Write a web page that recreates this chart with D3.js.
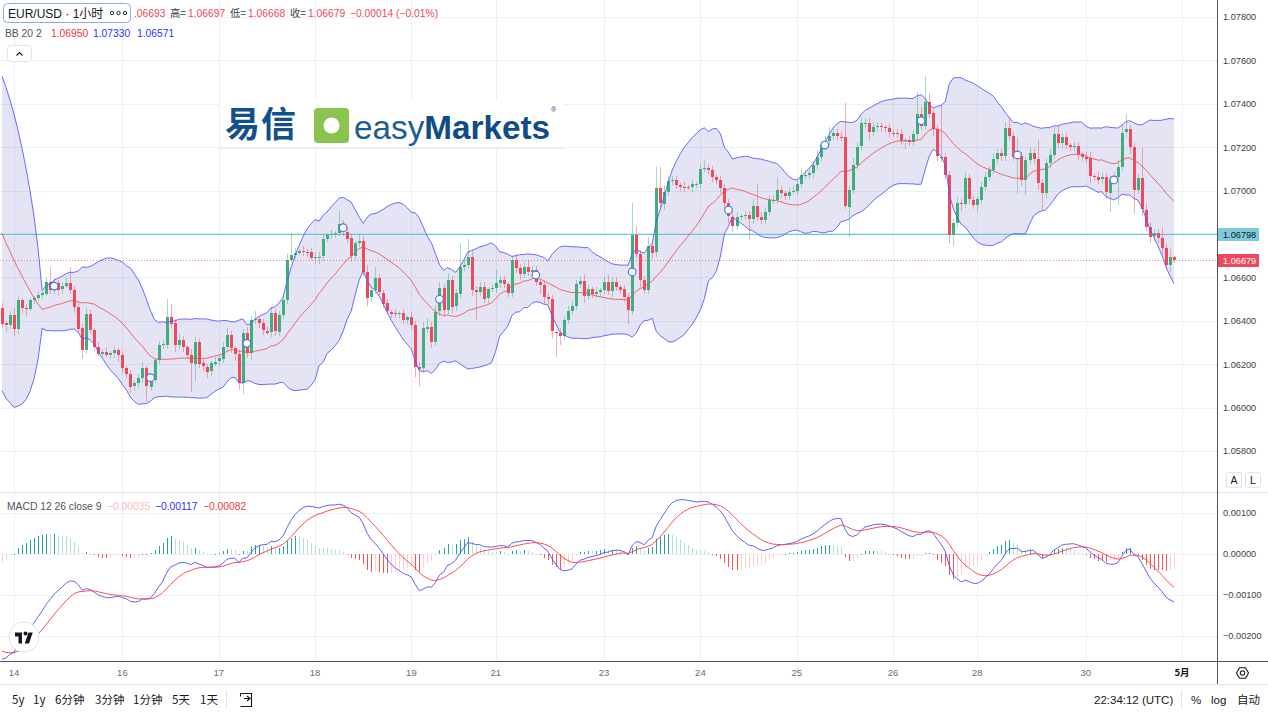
<!DOCTYPE html>
<html>
<head>
<meta charset="utf-8">
<script src="https://cdn.jsdelivr.net/npm/d3@7/dist/d3.min.js"></script>
<style>
  html, body { margin: 0; padding: 0; background: #fff; }
  svg { display: block; font-family: "Liberation Sans", Arial, sans-serif; }
</style>
</head>
<body>
<svg id="chart" width="1268" height="714"></svg>
<script>
// EUR/USD 1h candles with BB(20,2) and MACD(12,26,9), TradingView look.
// prices are kept in pips above 1.0600 to keep the arrays short
const BASE = 1.06;

// hours before the first visible bar (only feed the indicators)
const preCloses = [175, 174, 171, 170, 169, 166, 165, 164, 161, 160, 158, 158, 155, 152, 152,
  150, 149, 146, 145, 143, 141, 141, 138, 136, 135, 134, 131, 130, 128, 126,
  124, 123, 121, 120, 118, 117, 115, 113, 110, 100,
  48, 44, 42, 45, 47, 44, 43, 46, 46];

const closes = [
  38.8, 38.0, 42.7, 36.1, 49.6, 45.7, 45.3, 49.6, 50.3, 51.9,
  52.6, 58.0, 54.2, 57.6, 54.5, 56.0, 57.6, 54.2, 46.5, 36.5,
  26.5, 43.1, 35.8, 28.1, 25.0, 25.8, 24.2, 25.0, 26.5, 24.2,
  18.1, 15.5, 9.6, 11.2, 13.5, 18.1, 9.6, 12.7, 21.9, 28.8,
  29.2, 41.9, 38.8, 28.8, 31.2, 27.8, 24.2, 20.4, 30.4, 20.4,
  18.9, 16.6, 20.4, 21.2, 22.7, 28.1, 33.5, 27.3, 24.7, 11.2,
  34.2, 25.0, 40.4, 40.7, 38.8, 35.4, 34.5, 43.4, 35.0, 42.7,
  49.6, 68.0, 70.3, 71.4, 72.3, 71.9, 71.5, 68.8, 69.2, 69.6,
  77.5, 79.5, 80.0, 80.3, 84.6, 81.1, 78.0, 69.9, 76.0, 76.9,
  62.6, 50.8, 54.2, 59.6, 53.0, 48.0, 44.2, 43.4, 43.1, 43.4,
  40.4, 41.9, 38.1, 18.9, 18.1, 36.5, 37.3, 30.4, 44.2, 55.0,
  45.0, 58.8, 46.5, 52.6, 64.9, 65.7, 69.6, 54.2, 53.4, 55.7,
  50.3, 54.5, 55.0, 57.3, 58.8, 57.0, 53.0, 68.0, 64.2, 61.6,
  64.9, 62.6, 63.4, 58.0, 56.5, 50.8, 49.9, 35.0, 34.5, 33.0,
  40.4, 44.7, 46.8, 57.0, 58.5, 51.4, 54.5, 52.3, 53.4, 54.2,
  58.0, 53.9, 58.0, 55.7, 54.5, 50.8, 44.7, 79.5, 70.8, 58.8,
  54.2, 74.5, 71.4, 101.0, 94.1, 99.5, 104.6, 104.9, 102.6, 101.8,
  101.5, 101.4, 103.0, 103.1, 109.8, 110.3, 109.5, 106.1, 104.9, 101.0,
  94.1, 88.0, 83.7, 88.0, 88.3, 88.8, 86.8, 92.9, 88.0, 86.4,
  90.3, 95.7, 95.8, 100.3, 98.7, 97.5, 99.5, 100.0, 103.0, 107.2,
  107.3, 108.0, 111.8, 115.6, 121.0, 123.0, 125.2, 126.4, 124.9, 124.5,
  92.6, 100.3, 111.8, 120.2, 131.0, 131.3, 127.2, 129.5, 129.8, 129.2,
  128.7, 126.7, 126.6, 126.3, 123.0, 123.3, 122.5, 126.1, 135.3, 129.8,
  141.0, 135.6, 128.2, 115.6, 115.3, 107.2, 79.5, 84.9, 94.1, 93.8,
  105.6, 95.7, 93.4, 96.0, 101.8, 106.4, 109.5, 114.4, 117.2, 115.6,
  128.7, 125.2, 115.6, 115.9, 104.9, 114.1, 117.2, 114.4, 103.3, 98.7,
  112.6, 116.4, 126.1, 121.8, 124.5, 121.0, 120.2, 120.5, 116.9, 115.6,
  114.9, 106.7, 106.4, 105.2, 106.1, 99.0, 104.9, 106.4, 111.0, 126.7,
  128.2, 119.9, 100.3, 105.6, 91.1, 83.4, 78.8, 80.3, 78.0, 73.4,
  65.7, 69.3, 67.9
];

// wick length above / below the body, pips
const hiWick = [
  2, 1, 2, 3, 2, 1, 2, 1, 1, 2,   1, 2, 7, 2, 1, 2, 2, 7, 2, 2,
  2, 3, 2, 1, 2, 1, 2, 1, 2, 1,   2, 1, 2, 1, 2, 3, 1, 2, 1, 2,
  2, 8, 6, 2, 3, 2, 1, 3, 2, 1,   2, 1, 1, 2, 1, 2, 3, 2, 1, 2,
  2, 3, 2, 4, 1, 2, 2, 3, 2, 2,   2, 3, 10, 2, 1, 2, 1, 2, 2, 2,
  2, 1, 2, 1, 6, 2, 2, 2, 1, 3,   2, 3, 2, 5, 2, 1, 2, 1, 2, 1,
  2, 1, 2, 2, 2, 3, 4, 2, 3, 3,   2, 3, 2, 2, 11, 3, 8, 3, 2, 2,
  2, 1, 2, 6, 2, 2, 1, 2, 3, 2,   2, 3, 2, 2, 1, 2, 2, 2, 1, 2,
  2, 2, 3, 2, 2, 3, 2, 1, 2, 1,   2, 3, 2, 2, 1, 2, 2, 15, 4, 2,
  2, 4, 2, 10, 10, 3, 2, 2, 2, 1, 2, 1, 2, 1, 2, 4, 2, 2, 1, 2,
  2, 2, 2, 2, 1, 2, 2, 3, 10, 2,  2, 2, 2, 6, 2, 1, 2, 2, 2, 3,
  2, 2, 2, 3, 2, 2, 4, 2, 2, 2,   16, 2, 3, 2, 3, 2, 2, 2, 2, 2,
  1, 2, 1, 2, 2, 1, 2, 2, 10, 3,  12, 4, 2, 2, 24, 2, 2, 2, 3, 2,
  3, 2, 2, 1, 2, 2, 2, 3, 2, 2,   3, 5, 2, 9, 2, 2, 3, 2, 9, 2,
  2, 3, 3, 4, 2, 2, 1, 2, 2, 1,   2, 3, 1, 2, 2, 2, 2, 2, 3, 4,
  7, 2, 2, 2, 14, 3, 2, 2, 2, 5,  2, 4, 0.4
];
const loWick = [
  2, 3, 2, 3, 2, 2, 3, 1, 2, 1,   2, 1, 2, 2, 3, 2, 1, 2, 3, 2,
  4, 2, 2, 2, 1, 2, 1, 2, 2, 3,   2, 2, 3, 2, 2, 2, 7, 2, 1, 2,
  2, 2, 2, 3, 2, 2, 2, 13, 8, 2,  2, 3, 2, 1, 2, 2, 2, 2, 3, 3,
  5, 2, 3, 2, 2, 2, 1, 2, 2, 2,   2, 2, 1, 2, 1, 2, 2, 1, 2, 3,
  2, 1, 2, 2, 1, 2, 2, 3, 2, 2,   2, 4, 2, 2, 2, 2, 1, 2, 2, 2,
  2, 2, 2, 5, 8, 2, 2, 3, 2, 2,   3, 2, 3, 2, 2, 2, 2, 3, 13, 2,
  2, 2, 1, 2, 2, 2, 2, 2, 2, 3,   2, 2, 2, 2, 4, 3, 2, 3, 11, 4,
  2, 2, 2, 2, 2, 3, 2, 2, 2, 2,   2, 2, 3, 2, 2, 2, 6, 2, 2, 3,
  2, 2, 3, 2, 2, 3, 2, 2, 2, 2,   2, 1, 2, 2, 2, 1, 2, 2, 2, 2,
  2, 3, 3, 2, 2, 2, 9, 2, 2, 2,   2, 2, 2, 2, 2, 2, 2, 1, 2, 2,
  2, 2, 2, 2, 2, 1, 2, 2, 2, 2,   1, 14, 2, 2, 2, 2, 4, 2, 2, 2,
  2, 2, 2, 2, 2, 4, 2, 2, 3, 2,   2, 2, 3, 2, 2, 2, 4, 5, 2, 3,
  2, 2, 2, 3, 2, 2, 2, 2, 2, 2,   2, 2, 2, 17, 3, 7, 2, 2, 3, 8,
  2, 2, 2, 2, 2, 2, 2, 2, 3, 2,   2, 3, 2, 2, 2, 3, 9, 2, 13, 2,
  2, 3, 11, 2, 3, 2, 3, 2, 2, 3,  2, 3, 1.1
];

// daily circle markers (bar index, price in pips)
const markIdx = [13, 37, 61, 85, 109, 133, 157, 181, 205, 229, 253, 277];
const markPips = [56.0, 13.8, 29.6, 82.9, 49.9, 61.1, 62.5, 91.1, 121.0, 132.2, 116.4, 104.9];

// time axis
const dayLabels = ['14', '16', '17', '18', '19', '21', '23', '24', '25', '26', '28', '30', '5月'];
const dayIdx = [3, 30, 54, 78, 102, 123, 150, 174, 198, 222, 243, 270, 294];

const priceTicks = [1.078, 1.076, 1.074, 1.072, 1.070, 1.068, 1.066, 1.064, 1.062, 1.060, 1.058];
const macdTicks = [0.001, 0, -0.001, -0.002];
const hLinePrice = 1.06798;
const lastPrice = 1.06679;

const toolbarLeft = ['5y', '1y', '6分钟', '3分钟', '1分钟', '5天', '1天'];
const toolbarLeftX = [12, 33, 55, 95, 133, 172, 200];

// ---------------------------------------------------------------------------
const W = 1268, H = 714;
const AXIS_X = 1217, MAIN_B = 492, MACD_T = 493, MACD_B = 661, TB_Y = 684;
const UP = '#3fae7c', DOWN = '#ef4a5a', GRID = '#edf0f5', TXT = '#3d4049';
const CJK = '"Noto Sans CJK SC", "Liberation Sans", sans-serif';
const LAT = '"Liberation Sans", "Noto Sans CJK SC", sans-serif';

const svg = d3.select('#chart');
svg.append('rect').attr('width', W).attr('height', H).attr('fill', '#fff');

const nPre = preCloses.length;
const allCloses = preCloses.concat(closes).map(p => BASE + p / 10000);

const bars = closes.map((_, i) => {
  const open = allCloses[nPre + i - 1], close = allCloses[nPre + i];
  return {
    i, open, close,
    hi: Math.max(open, close) + hiWick[i] / 10000,
    lo: Math.min(open, close) - loWick[i] / 10000
  };
});

// bollinger 20, 2
const bb = closes.map((_, i) => {
  const k = nPre + i;
  const win = allCloses.slice(k - 19, k + 1);
  const m = d3.mean(win);
  const sd = Math.sqrt(d3.mean(win, v => (v - m) ** 2));
  return { i, mid: m, up: m + 2 * sd, lo: m - 2 * sd };
});

// macd 12 26 9
function ema(arr, n) {
  const a = 2 / (n + 1);
  let e = arr[0];
  return arr.map(v => (e = a * v + (1 - a) * e));
}
const e12 = ema(allCloses, 12), e26 = ema(allCloses, 26);
const macdAll = e12.map((v, k) => v - e26[k]);
const sigAll = ema(macdAll, 9);
const macd = closes.map((_, i) => {
  const k = nPre + i;
  const h = macdAll[k] - sigAll[k], hp = macdAll[k - 1] - sigAll[k - 1];
  return { i, m: macdAll[k], s: sigAll[k], h, hp };
});

const x = d3.scaleLinear().domain([0, 292]).range([2, 1174]);
const y = d3.scaleLinear().domain([1.058, 1.078]).range([451, 17]);
const yM = d3.scaleLinear().domain([-0.002, 0.001]).range([636, 513]);

const defs = svg.append('defs');
defs.append('clipPath').attr('id', 'clipMain')
  .append('rect').attr('x', 0).attr('y', 0).attr('width', AXIS_X).attr('height', MAIN_B);
defs.append('clipPath').attr('id', 'clipMacd')
  .append('rect').attr('x', 0).attr('y', MACD_T).attr('width', AXIS_X).attr('height', MACD_B - MACD_T);

// ---- grid
const grid = svg.append('g').attr('stroke', GRID).attr('shape-rendering', 'crispEdges');
grid.selectAll('line.v').data(dayIdx).join('line').attr('class', 'v')
  .attr('x1', d => Math.round(x(d)) + 0.5).attr('x2', d => Math.round(x(d)) + 0.5)
  .attr('y1', 0).attr('y2', MACD_B);
grid.selectAll('line.h').data(priceTicks).join('line').attr('class', 'h')
  .attr('x1', 0).attr('x2', AXIS_X)
  .attr('y1', d => Math.round(y(d)) + 0.5).attr('y2', d => Math.round(y(d)) + 0.5);
grid.selectAll('line.m').data(macdTicks).join('line').attr('class', 'm')
  .attr('x1', 0).attr('x2', AXIS_X)
  .attr('y1', d => Math.round(yM(d)) + 0.5).attr('y2', d => Math.round(yM(d)) + 0.5);

// ---- logo overlay
const logo = svg.append('g');
logo.append('rect').attr('x', 220).attr('y', 101).attr('width', 344).attr('height', 47).attr('fill', '#fff');
logo.append('rect').attr('x', 220).attr('y', 147).attr('width', 344).attr('height', 2).attr('fill', '#ededed');
logo.append('text').attr('x', 225).attr('y', 137).attr('font-family', CJK)
  .attr('font-size', 35).attr('font-weight', 700).attr('fill', '#12508a')
  .attr('textLength', 71).text('易信');
logo.append('rect').attr('x', 314).attr('y', 108).attr('width', 35).attr('height', 35)
  .attr('rx', 4).attr('fill', '#8bc34f');
logo.append('circle').attr('cx', 331.5).attr('cy', 125.5).attr('r', 8).attr('fill', '#fff');
const brand = logo.append('text').attr('x', 354).attr('y', 139).attr('font-size', 33)
  .attr('textLength', 196).attr('lengthAdjust', 'spacingAndGlyphs');
brand.append('tspan').attr('fill', '#1c5c97').text('easy');
brand.append('tspan').attr('fill', '#0f4c86').attr('font-weight', 700).text('Markets');
logo.append('text').attr('x', 551).attr('y', 112).attr('font-size', 7).attr('fill', '#0f4c86').text('®');

// ---- main pane
const main = svg.append('g').attr('clip-path', 'url(#clipMain)');

main.append('path').datum(bb)
  .attr('d', d3.area().x(d => x(d.i)).y0(d => y(d.lo)).y1(d => y(d.up)))
  .attr('fill', 'rgba(120,120,200,0.2)');

main.append('line')
  .attr('x1', 0).attr('x2', AXIS_X)
  .attr('y1', y(hLinePrice)).attr('y2', y(hLinePrice))
  .attr('stroke', '#6cc4da').attr('stroke-width', 1.3);

const candle = main.append('g').selectAll('g').data(bars).join('g');
candle.append('line')
  .attr('x1', d => Math.round(x(d.i)) + 0.5).attr('x2', d => Math.round(x(d.i)) + 0.5)
  .attr('y1', d => y(d.hi)).attr('y2', d => y(d.lo))
  .attr('stroke', d => d.close >= d.open ? UP : DOWN)
  .attr('stroke-opacity', 0.45).attr('shape-rendering', 'crispEdges');
candle.append('rect')
  .attr('x', d => Math.round(x(d.i)) - 1)
  .attr('width', 3)
  .attr('y', d => Math.round(y(Math.max(d.open, d.close))))
  .attr('height', d => Math.max(1, Math.round(Math.abs(y(d.open) - y(d.close)))))
  .attr('fill', d => d.close >= d.open ? UP : DOWN)
  .attr('shape-rendering', 'crispEdges');

main.append('path').datum(bb)
  .attr('d', d3.line().x(d => x(d.i)).y(d => y(d.up)))
  .attr('fill', 'none').attr('stroke', '#5252ff').attr('stroke-width', 1).attr('stroke-opacity', 0.85);
main.append('path').datum(bb)
  .attr('d', d3.line().x(d => x(d.i)).y(d => y(d.lo)))
  .attr('fill', 'none').attr('stroke', '#5252ff').attr('stroke-width', 1).attr('stroke-opacity', 0.85);
main.append('path').datum(bb)
  .attr('d', d3.line().x(d => x(d.i)).y(d => y(d.mid)))
  .attr('fill', 'none').attr('stroke', '#f04848').attr('stroke-width', 1).attr('stroke-opacity', 0.8);

main.selectAll('circle.mk').data(markIdx).join('circle').attr('class', 'mk')
  .attr('cx', d => x(d)).attr('cy', (d, k) => y(BASE + markPips[k] / 10000))
  .attr('r', 3.8).attr('fill', '#fff').attr('stroke', '#4a78f0').attr('stroke-width', 1.2);

main.append('line')
  .attr('x1', 0).attr('x2', AXIS_X)
  .attr('y1', Math.round(y(lastPrice)) + 0.5).attr('y2', Math.round(y(lastPrice)) + 0.5)
  .attr('stroke', '#f23645').attr('stroke-opacity', 0.6).attr('stroke-dasharray', '1,2');

// ---- macd pane
const histColor = d => d.h >= 0
  ? (d.h > d.hp ? '#26a69a' : '#b2dfdb')
  : (d.h < d.hp ? '#ff5252' : '#ffcdd2');
const mp = svg.append('g').attr('clip-path', 'url(#clipMacd)');
mp.append('g').attr('shape-rendering', 'crispEdges')
  .selectAll('rect').data(macd).join('rect')
  .attr('x', d => Math.round(x(d.i)))
  .attr('width', 1)
  .attr('y', d => Math.round(Math.min(yM(0), yM(d.h))))
  .attr('height', d => Math.max(1, Math.round(Math.abs(yM(d.h) - yM(0)))))
  .attr('fill', histColor);
mp.append('path').datum(macd)
  .attr('d', d3.line().x(d => x(d.i)).y(d => yM(d.m)))
  .attr('fill', 'none').attr('stroke', '#4f4fff').attr('stroke-width', 1).attr('stroke-opacity', 0.9);
mp.append('path').datum(macd)
  .attr('d', d3.line().x(d => x(d.i)).y(d => yM(d.s)))
  .attr('fill', 'none').attr('stroke', '#ff3b3b').attr('stroke-width', 1).attr('stroke-opacity', 0.9);

// tradingview badge
const tv = svg.append('g').attr('transform', 'translate(24,637)');
tv.append('circle').attr('r', 15).attr('fill', '#fff').attr('stroke', '#e0e3eb');
tv.append('path').attr('transform', 'translate(-9,-6.5) scale(0.5)')
  .attr('d', 'M14 26H7V12H0V4h14v22zM28 26h-8.5L27 4h8.5L28 26z').attr('fill', '#131722');
tv.append('circle').attr('cx', 1.5).attr('cy', -3.5).attr('r', 2).attr('fill', '#131722');

// ---- frame lines
const frame = svg.append('g').attr('shape-rendering', 'crispEdges');
frame.append('line').attr('x1', 0).attr('x2', W).attr('y1', MAIN_B + 0.5).attr('y2', MAIN_B + 0.5).attr('stroke', '#e0e3eb');
frame.append('line').attr('x1', 0).attr('x2', W).attr('y1', MACD_B + 0.5).attr('y2', MACD_B + 0.5).attr('stroke', '#50535e');
frame.append('line').attr('x1', AXIS_X + 0.5).attr('x2', AXIS_X + 0.5).attr('y1', 0).attr('y2', TB_Y).attr('stroke', '#50535e');
frame.append('line').attr('x1', 0).attr('x2', W).attr('y1', TB_Y + 0.5).attr('y2', TB_Y + 0.5).attr('stroke', '#e0e3eb');

// ---- price axis
const fmt5 = v => (v < 0 ? '\u2212' : '') + Math.abs(v).toFixed(5);
const ax = svg.append('g').attr('font-size', 9.2).attr('fill', TXT);
ax.selectAll('text.p').data(priceTicks.filter(t => Math.abs(y(t) - y(hLinePrice)) > 12))
  .join('text').attr('class', 'p').attr('x', 1223).attr('y', d => y(d) + 3.3).text(d => d.toFixed(5));
ax.selectAll('text.m').data(macdTicks).join('text').attr('class', 'm')
  .attr('x', 1223).attr('y', d => yM(d) + 3.3).text(fmt5);

svg.append('rect').attr('x', 1218).attr('y', Math.round(y(hLinePrice)) - 6).attr('width', 41).attr('height', 13)
  .attr('fill', '#7ecbdd');
svg.append('text').attr('x', 1223).attr('y', y(hLinePrice) + 3.6).attr('font-size', 9.2)
  .attr('fill', '#131722').text(hLinePrice.toFixed(5));
svg.append('rect').attr('x', 1218).attr('y', Math.round(y(lastPrice)) - 6).attr('width', 41).attr('height', 13)
  .attr('fill', '#f0485a');
svg.append('text').attr('x', 1223).attr('y', y(lastPrice) + 3.6).attr('font-size', 9.2)
  .attr('fill', '#fff').text(lastPrice.toFixed(5));

// A / L buttons
[['A', 1226], ['L', 1245]].forEach(([t, bx]) => {
  svg.append('rect').attr('x', bx + 0.5).attr('y', 472.5).attr('width', 15).attr('height', 15).attr('rx', 2)
    .attr('fill', '#fff').attr('stroke', '#e0e3eb');
  svg.append('text').attr('x', bx + 8).attr('y', 484).attr('text-anchor', 'middle')
    .attr('font-size', 10.5).attr('fill', '#131722').text(t);
});

// ---- time axis
svg.append('g').selectAll('text').data(dayLabels).join('text')
  .attr('x', (d, k) => x(dayIdx[k]))
  .attr('y', 676).attr('text-anchor', 'middle').attr('font-size', 9.5)
  .attr('font-family', d => d === '5月' ? CJK : null)
  .attr('font-weight', d => d === '5月' ? 700 : 400)
  .attr('fill', d => d === '5月' ? '#131722' : '#6a6d78').text(d => d);

const gear = svg.append('g').attr('transform', 'translate(1242.5,673)');
gear.append('path').attr('d', d3.range(6).map(k => {
  const a = Math.PI / 3 * k;
  return (k ? 'L' : 'M') + (6 * Math.cos(a)).toFixed(2) + ',' + (6 * Math.sin(a)).toFixed(2);
}).join('') + 'Z').attr('fill', 'none').attr('stroke', '#131722').attr('stroke-width', 1.1);
gear.append('circle').attr('r', 2.2).attr('fill', 'none').attr('stroke', '#131722').attr('stroke-width', 1.1);

// ---- bottom toolbar
const tb = svg.append('g').attr('font-size', 11.5).attr('fill', '#131722').attr('font-family', CJK);
tb.selectAll('text').data(toolbarLeft).join('text')
  .attr('x', (d, k) => toolbarLeftX[k]).attr('y', 704).text(d => d);
svg.append('line').attr('x1', 226.5).attr('x2', 226.5).attr('y1', 690).attr('y2', 709).attr('stroke', '#e0e3eb');
svg.append('path').attr('d', 'M240.5,693.5h11v13h-11 M240.5,693.5v3 M244,698.5h6 M247,696l3,2.5l-3,2.5')
  .attr('fill', 'none').attr('stroke', '#131722').attr('stroke-width', 1.1);
svg.append('text').attr('x', 1094).attr('y', 704).attr('font-size', 11.5).attr('fill', '#131722').text('22:34:12 (UTC)');
svg.append('line').attr('x1', 1181.5).attr('x2', 1181.5).attr('y1', 690).attr('y2', 709).attr('stroke', '#e0e3eb');
svg.append('text').attr('x', 1191).attr('y', 704).attr('font-size', 11.5).attr('fill', '#131722').text('%');
svg.append('text').attr('x', 1211).attr('y', 704).attr('font-size', 11.5).attr('fill', '#131722').text('log');
svg.append('text').attr('x', 1237).attr('y', 704).attr('font-size', 11.5).attr('font-family', CJK)
  .attr('fill', '#131722').text('自动');

// ---- legends
const lg = svg.append('g').attr('font-size', 10.3);
lg.append('rect').attr('x', 3.5).attr('y', 3.5).attr('width', 127).attr('height', 19).attr('rx', 4)
  .attr('fill', '#fff').attr('stroke', '#8ea8f2');
lg.append('text').attr('x', 8).attr('y', 17.5).attr('font-size', 12).attr('font-family', LAT)
  .attr('fill', '#131722').text('EUR/USD · 1小时');
[112, 118.5, 125].forEach(cx => lg.append('circle').attr('cx', cx).attr('cy', 13).attr('r', 1.7)
  .attr('fill', 'none').attr('stroke', '#131722').attr('stroke-width', 0.9));

const ohlc = [
  ['.06693', 134, DOWN], ['高=', 170, TXT], ['1.06697', 188, DOWN], ['低=', 230, TXT],
  ['1.06668', 248, DOWN], ['收=', 290, TXT], ['1.06679', 308, DOWN], ['\u22120.00014 (\u22120.01%)', 350, DOWN]
];
lg.selectAll('text.o').data(ohlc).join('text').attr('class', 'o')
  .attr('x', d => d[1]).attr('y', 17).attr('fill', d => d[2])
  .attr('font-family', d => d[2] === TXT ? CJK : null).text(d => d[0]);

const bbLeg = [['BB 20 2', 5, '#50535e'], ['1.06950', 51, '#f23645'], ['1.07330', 93, '#2f2fff'], ['1.06571', 137, '#2f2fff']];
lg.selectAll('text.b').data(bbLeg).join('text').attr('class', 'b')
  .attr('x', d => d[1]).attr('y', 37).attr('fill', d => d[2]).text(d => d[0]);

lg.append('rect').attr('x', 7.5).attr('y', 45.5).attr('width', 24).attr('height', 16).attr('rx', 3)
  .attr('fill', '#fff').attr('stroke', '#e0e3eb');
lg.append('path').attr('d', 'M16.5,55.5l3,-3l3,3').attr('fill', 'none').attr('stroke', '#131722').attr('stroke-width', 1.1);

const mLeg = [['MACD 12 26 close 9', 7, '#50535e'], ['\u22120.00035', 107, '#ffb8bf'], ['\u22120.00117', 155, '#2f2fff'], ['\u22120.00082', 203, '#f23645']];
lg.selectAll('text.mm').data(mLeg).join('text').attr('class', 'mm')
  .attr('x', d => d[1]).attr('y', 509.5).attr('fill', d => d[2]).text(d => d[0]);
</script>
</body>
</html>
